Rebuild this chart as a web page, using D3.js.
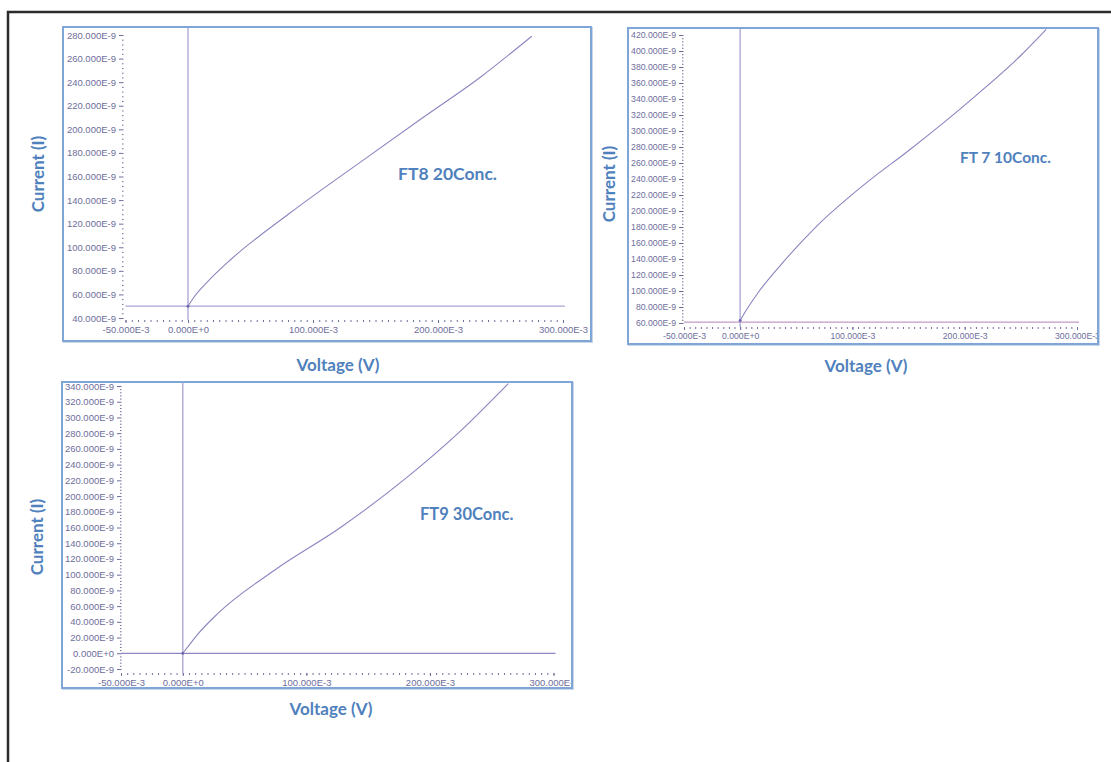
<!DOCTYPE html>
<html>
<head>
<meta charset="utf-8">
<script src="https://cdn.jsdelivr.net/npm/d3@7"></script>
<style>
  body { margin: 0; background: #fff; }
  svg { display: block; }
</style>
</head>
<body>
<svg id="fig" width="1111" height="762"></svg>
<script>
// ---- data (voltage in mV, current in nA) ----
var ft8Voltage = [0, 5, 15, 33.6, 81.6, 143, 188, 233.6, 275];
var ft8Current = [50, 58, 70, 89, 129, 176, 210, 244, 279];

var ft7Voltage = [0, 5, 15, 34, 66.7, 114, 149.6, 208.9, 250.4, 272.6];
var ft7Current = [63, 75, 96, 129, 179, 237, 275, 343, 395, 427];

var ft9Voltage = [0, 5, 12, 28.6, 74.5, 128.5, 182.4, 222.9, 263.4];
var ft9Current = [0, 10, 24, 51, 106, 161, 225, 280, 343];

var xTickVals = [-50, 0, 100, 200, 300];
var ft8YTicks = [40, 60, 80, 100, 120, 140, 160, 180, 200, 220, 240, 260, 280];
var ft7YTicks = [60, 80, 100, 120, 140, 160, 180, 200, 220, 240, 260, 280, 300, 320, 340, 360, 380, 400, 420];
var ft9YTicks = [-20, 0, 20, 40, 60, 80, 100, 120, 140, 160, 180, 200, 220, 240, 260, 280, 300, 320, 340];

var baselines = [50, 61, 0];
var labels = ["FT8 20Conc.", "FT 7 10Conc.", "FT9 30Conc."];

var blue = "#4f81bd";
var tickCol = "#6e6e9c";
var lineCol = "#8a86c0";

var svg = d3.select("#fig");

// outer frame
svg.append("path")
    .attr("d", "M8,763 L8,12 L1112,12")
    .attr("fill", "none")
    .attr("stroke", "#2b2b2b")
    .attr("stroke-width", 2.5);

function fmtY(v) { return v === 0 ? "0.000E+0" : v.toFixed(3) + "E-9"; }
function fmtX(v) { return v === 0 ? "0.000E+0" : v.toFixed(3) + "E-3"; }

function drawPanel(p, i) {
    var g = svg.append("g");

    // panel box
    g.append("rect")
        .attr("x", p.box[0] + 1).attr("y", p.box[1] + 1)
        .attr("width", p.box[2] - p.box[0]).attr("height", p.box[3] - p.box[1])
        .attr("fill", "none").attr("stroke", "#c9d6e8").attr("stroke-width", 2);
    g.append("rect")
        .attr("x", p.box[0]).attr("y", p.box[1])
        .attr("width", p.box[2] - p.box[0]).attr("height", p.box[3] - p.box[1])
        .attr("fill", "#fff").attr("stroke", "#7fa6d6").attr("stroke-width", 2);

    var x = d3.scaleLinear().domain([-50, 300]).range(p.xr);
    var y = d3.scaleLinear().domain(p.yd).range(p.yr);

    var clipId = "clip" + i;
    g.append("clipPath").attr("id", clipId)
      .append("rect")
        .attr("x", p.box[0] + 1).attr("y", p.box[1] + 1)
        .attr("width", p.box[2] - p.box[0] - 2).attr("height", p.box[3] - p.box[1] - 2);

    var inner = g.append("g").attr("clip-path", "url(#" + clipId + ")");

    // y axis: major labelled ticks + minor dots
    var ya = inner.append("g")
        .attr("transform", "translate(" + p.yAxisX + ",0)")
        .call(d3.axisLeft(y).tickValues(p.yTicks).tickSize(3).tickFormat(fmtY));
    ya.select(".domain").remove();
    ya.selectAll("line").attr("stroke", tickCol);
    ya.selectAll("text")
        .attr("fill", tickCol)
        .style("font-family", "Liberation Sans, Arial, sans-serif")
        .style("font-size", p.fs + "px");

    var yMinor = d3.range(p.yd[0], p.yd[1] + 0.01, (p.yTicks[1] - p.yTicks[0]) / 5);
    var ym = inner.append("g")
        .attr("transform", "translate(" + p.yAxisX + ",0)")
        .call(d3.axisRight(y).tickValues(yMinor).tickSize(1.5).tickFormat(""));
    ym.select(".domain").remove();
    ym.selectAll("line").attr("stroke", tickCol);

    // x axis: dotted row of ticks
    var xMinor = d3.range(-50, 300.01, 5);
    var xm = inner.append("g")
        .attr("transform", "translate(0," + p.xAxisY + ")")
        .call(d3.axisBottom(x).tickValues(xMinor).tickSize(2).tickFormat(""));
    xm.select(".domain").remove();
    xm.selectAll("line").attr("stroke", tickCol);

    var xa = inner.append("g")
        .attr("transform", "translate(0," + p.xAxisY + ")")
        .call(d3.axisBottom(x).tickValues(xTickVals).tickSize(3).tickPadding(3).tickFormat(fmtX));
    xa.select(".domain").remove();
    xa.selectAll("line").attr("stroke", tickCol);
    xa.selectAll("text")
        .attr("fill", tickCol)
        .style("font-family", "Liberation Sans, Arial, sans-serif")
        .style("font-size", p.fs + "px");

    // zero-voltage line and baseline current
    inner.append("line")
        .attr("x1", x(0)).attr("x2", x(0))
        .attr("y1", p.box[1]).attr("y2", p.xAxisY)
        .attr("stroke", "#a9a3d2").attr("stroke-width", 1.3);
    inner.append("line")
        .attr("x1", x(-50)).attr("x2", x(300) + 2)
        .attr("y1", y(baselines[i])).attr("y2", y(baselines[i]))
        .attr("stroke", p.baseCol).attr("stroke-width", 1.3);

    var pts = p.v.map(function(d, k) { return [d, p.c[k]]; });
    inner.append("path")
        .datum(pts)
        .attr("fill", "none")
        .attr("stroke", lineCol)
        .attr("stroke-width", 1.1)
        .attr("d", d3.line()
            .x(function(d) { return x(d[0]); })
            .y(function(d) { return y(d[1]); })
            .curve(d3.curveMonotoneX));

    inner.append("circle")
        .attr("cx", x(0)).attr("cy", y(p.c[0]))
        .attr("r", 1.5).attr("fill", "#6d68b0");

    // titles
    g.append("text")
        .attr("transform", "translate(" + p.yTitle[0] + "," + p.yTitle[1] + ")rotate(-90)")
        .attr("text-anchor", "middle")
        .attr("fill", blue)
        .style("font-family", "Lato, sans-serif")
        .style("font-weight", 700)
        .style("font-size", "17px")
        .text("Current (I)");

    g.append("text")
        .attr("x", p.xTitle[0]).attr("y", p.xTitle[1])
        .attr("text-anchor", "middle")
        .attr("fill", blue)
        .style("font-family", "Lato, sans-serif")
        .style("font-weight", 700)
        .style("font-size", "17px")
        .text("Voltage (V)");

    inner.append("text")
        .attr("x", p.label[0]).attr("y", p.label[1])
        .attr("fill", blue)
        .style("font-family", "Lato, sans-serif")
        .style("font-weight", 700)
        .style("font-size", p.labelFs + "px")
        .text(labels[i]);
}

var panels = [
    { box: [63, 27, 591, 341], xr: [125.5, 563], yd: [40, 280], yr: [318, 35],
      yTicks: ft8YTicks, yAxisX: 122, xAxisY: 320, fs: 9.5,
      v: ft8Voltage, c: ft8Current, baseCol: "#a9a3d2",
      yTitle: [44, 174], xTitle: [338, 371], label: [398, 180], labelFs: 17.5 },
    { box: [628, 28, 1098, 344], xr: [684, 1077], yd: [60, 420], yr: [323, 35],
      yTicks: ft7YTicks, yAxisX: 682, xAxisY: 327, fs: 8.7,
      v: ft7Voltage, c: ft7Current, baseCol: "#c39ac8",
      yTitle: [615, 184], xTitle: [866, 372], label: [960, 163], labelFs: 15.5 },
    { box: [62, 382, 572, 688], xr: [121, 553.5], yd: [-20, 340], yr: [669, 386],
      yTicks: ft9YTicks, yAxisX: 120, xAxisY: 673, fs: 9.5,
      v: ft9Voltage, c: ft9Current, baseCol: "#8f88c6",
      yTitle: [43, 537], xTitle: [331, 715], label: [420, 520], labelFs: 16.5 }
];

panels.forEach(drawPanel);
</script>
</body>
</html>
